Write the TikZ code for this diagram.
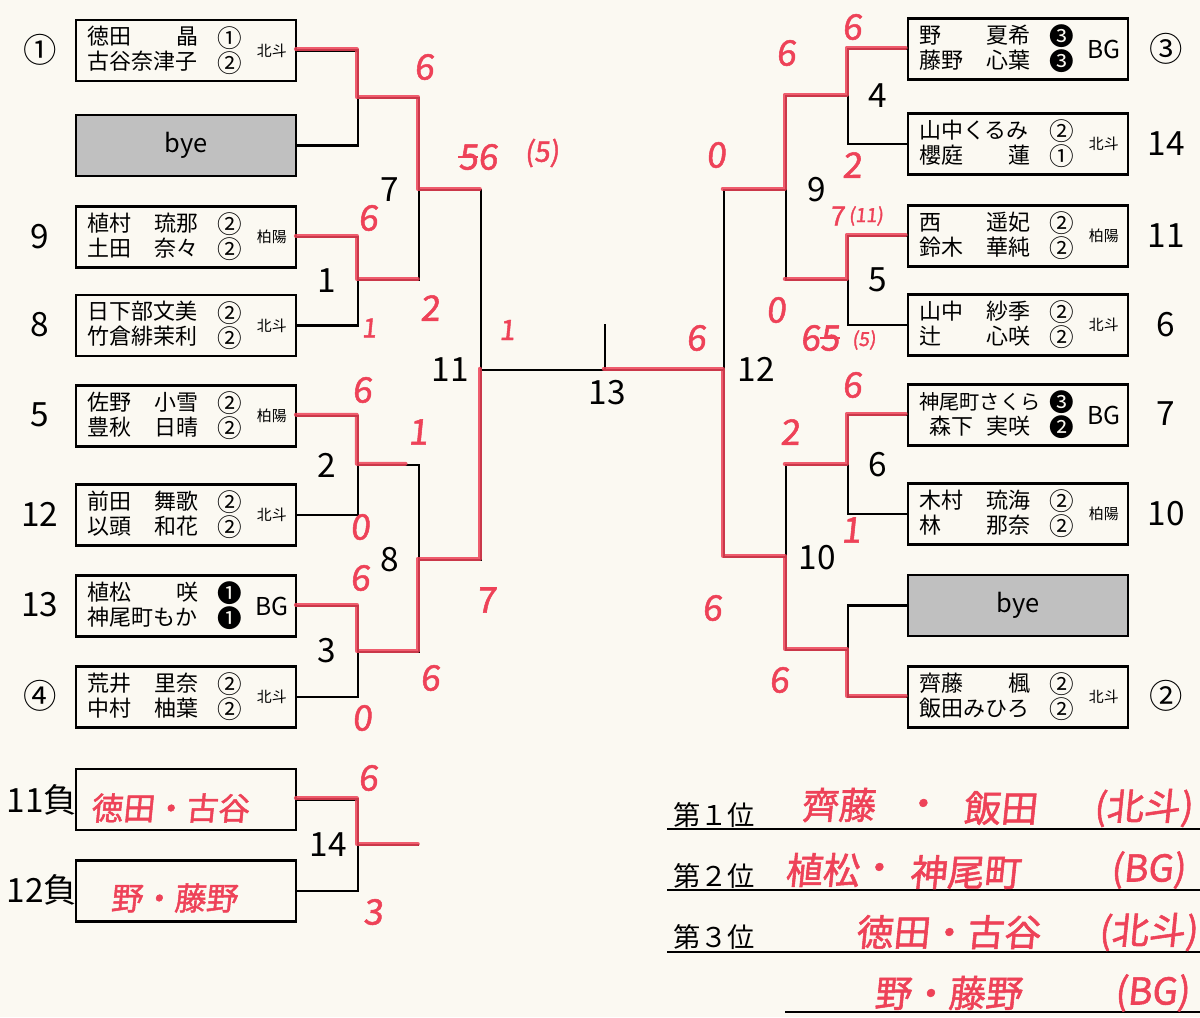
\documentclass[tikz,border=0pt]{standalone}
\usepackage{fontspec}
\usetikzlibrary{calc}
\setmainfont{Noto Sans CJK JP}
\newfontfamily\hand[FakeSlant=0.1,FakeBold=1.5]{Noto Sans CJK JP}
\definecolor{pen}{RGB}{238,66,88}
\definecolor{paper}{RGB}{251,249,242}
\definecolor{byegray}{RGB}{192,192,192}
\newcommand\bgf{\fontsize{14}{14}\selectfont}

\newcommand\pair[8]{%
	\node[nm,anchor=west] (#1s1) at ($(#1.west)+(12,-12.5)$) {#2};
	\node[nm,anchor=east] (#1g1) at ($(#1.west)+(124,-12.5)$) {#3};
	\node[circ] (#1c1) at ($(#1.west)+(155,-12.5)$) {#4};
	\node[nm,anchor=west] (#1s2) at ($(#1.west)+(12,12.5)$) {#5};
	\node[nm,anchor=east] (#1g2) at ($(#1.west)+(124,12.5)$) {#6};
	\node[circ] (#1c2) at ($(#1.west)+(155,12.5)$) {#7};
	\node[sch] (#1sc) at ($(#1.west)+(197,0)$) {#8};
}

\begin{document}
\begin{tikzpicture}[x=0.2mm,y=-0.2mm,
	box/.style={draw,line width=0.45mm,minimum width=44mm,minimum height=12.2mm,inner sep=0},
	byebox/.style={box,fill=byegray,font=\fontsize{14.5}{14.5}\selectfont},
	nm/.style={inner sep=0,font=\fontsize{12.5}{12.5}\selectfont,text height=0.88em,text depth=0.12em},
	circ/.style={inner sep=0,font=\fontsize{14}{14}\selectfont},
	sch/.style={inner sep=0,font=\fontsize{8.5}{8.5}\selectfont},
	num/.style={inner sep=0,font=\fontsize{19}{19}\selectfont},
	place/.style={inner sep=0,font=\fontsize{15.5}{15.5}\selectfont},
	bline/.style={line width=0.45mm},
	win/.style={draw=pen,line width=0.8mm,opacity=.85,line cap=round,line join=round,transform canvas={xshift=-0.25mm,yshift=0.25mm}},
	score/.style={inner sep=0,text=pen,font=\hand\fontsize{20}{20}\selectfont},
	tiny score/.style={inner sep=0,text=pen,font=\hand\fontsize{11}{11}\selectfont},
	hw/.style={inner sep=0,text=pen,font=\hand\fontsize{18}{18}\selectfont},
	res/.style={inner sep=0,text=pen,font=\hand\fontsize{21}{21}\selectfont}]

	\fill[paper] (0,0) rectangle (1200,1017);
	\useasboundingbox (0,0) rectangle (1200,1017);

	\node[box] (L1) at (186,50.5) {};
	\pair{L1}{徳田}{晶}{①}{古谷奈津子}{}{②}{北斗}
	\node[byebox] (L2) at (186,145.5) {bye};
	\node[box] (L3) at (186,237) {};
	\pair{L3}{植村}{琉那}{②}{土田}{奈々}{②}{柏陽}
	\node[box] (L4) at (186,325.5) {};
	\pair{L4}{日下部文美}{}{②}{竹倉緋茉利}{}{②}{北斗}
	\node[box] (L5) at (186,416) {};
	\pair{L5}{佐野}{小雪}{②}{豊秋}{日晴}{②}{柏陽}
	\node[box] (L6) at (186,515) {};
	\pair{L6}{前田}{舞歌}{②}{以頭}{和花}{②}{北斗}
	\node[box] (L7) at (186,606) {};
	\pair{L7}{植松}{咲}{❶}{神尾町もか}{}{❶}{\bgf BG}
	\node[box] (L8) at (186,697) {};
	\pair{L8}{荒井}{里奈}{②}{中村}{柚葉}{②}{北斗}

	\node[box] (R1) at (1018,49) {};
	\pair{R1}{野}{夏希}{❸}{藤野}{心葉}{❸}{\bgf BG}
	\node[box] (R2) at (1018,144) {};
	\pair{R2}{山中くるみ}{}{②}{櫻庭}{蓮}{①}{北斗}
	\node[box] (R3) at (1018,236) {};
	\pair{R3}{西}{遥妃}{②}{鈴木}{華純}{②}{柏陽}
	\node[box] (R4) at (1018,325) {};
	\pair{R4}{山中}{紗季}{②}{辻}{心咲}{②}{北斗}
	\node[box] (R5) at (1018,415) {};
	\pair{R5}{\fontsize{11.5}{11.5}\selectfont 神尾町さくら}{}{❸}{\hspace{2mm}森下}{実咲\hspace{1mm}}{❷}{\bgf BG}
	\node[box] (R6) at (1018,514) {};
	\pair{R6}{木村}{琉海}{②}{林}{那奈}{②}{柏陽}
	\node[byebox] (R7) at (1018,605.5) {bye};
	\node[box] (R8) at (1018,697) {};
	\pair{R8}{齊藤}{楓}{②}{飯田みひろ}{}{②}{北斗}

	\node[box] (B1) at (186,799.5) {};
	\node[box] (B2) at (186,891) {};

	\node[num] (sL1) at (40,50) {①};
	\node[num] (sL3) at (40,237) {9};
	\node[num] (sL4) at (40,325) {8};
	\node[num] (sL5) at (40,415) {5};
	\node[num] (sL6) at (40,514) {12};
	\node[num] (sL7) at (40,605) {13};
	\node[num] (sL8) at (40,696) {④};
	\node[num] (sR1) at (1166,49) {③};
	\node[num] (sR2) at (1166,144) {14};
	\node[num] (sR3) at (1166,236) {11};
	\node[num] (sR4) at (1166,325) {6};
	\node[num] (sR5) at (1166,414) {7};
	\node[num] (sR6) at (1166,514) {10};
	\node[num] (sR8) at (1166,696) {②};
	\node[num] (sB1) at (42,800) {11負};
	\node[num] (sB2) at (42,890) {12負};

	\coordinate (qa) at (358,98);
	\coordinate (q1) at (358,280);
	\coordinate (q2) at (358,465);
	\coordinate (q3) at (358,652);
	\coordinate (s7) at (419,190);
	\coordinate (s8) at (419,560);
	\coordinate (f11) at (481,370);
	\coordinate (c13) at (605,370);
	\coordinate (c13t) at (605,324);
	\coordinate (f12) at (724,370);
	\coordinate (s9) at (786,190);
	\coordinate (s10) at (786,557);
	\coordinate (q4) at (848,96);
	\coordinate (q5) at (848,280);
	\coordinate (q6) at (848,465);
	\coordinate (qb) at (848,650);
	\coordinate (q14) at (358,845);
	\coordinate (e14) at (419,845);

	\draw[bline] (L1.east) -| (qa) |- (L2.east);
	\draw[bline] (L3.east) -| (q1) |- (L4.east);
	\draw[bline] (L5.east) -| (q2) |- (L6.east);
	\draw[bline] (L7.east) -| (q3) |- (L8.east);
	\draw[bline] (qa) -| (s7) |- (q1);
	\draw[bline] (q2) -| (s8) |- (q3);
	\draw[bline] (s7) -| (f11) |- (s8);
	\draw[bline] (f11) -- (c13) -- (f12);
	\draw[bline] (c13) -- (c13t);
	\draw[bline] (f12) |- (s9);
	\draw[bline] (f12) |- (s10);
	\draw[bline] (q4) -| (s9) |- (q5);
	\draw[bline] (q6) -| (s10) |- (qb);
	\draw[bline] (R1.west) -| (q4) |- (R2.west);
	\draw[bline] (R3.west) -| (q5) |- (R4.west);
	\draw[bline] (R5.west) -| (q6) |- (R6.west);
	\draw[bline] (R7.west) -| (qb) |- (R8.west);
	\draw[bline] (B1.east) -| (q14) |- (B2.east);
	\draw[bline] (q14) -- (e14);

	\node[num] (m1) at (327,281) {1};
	\node[num] (m2) at (327,465) {2};
	\node[num] (m3) at (327,651) {3};
	\node[num] (m7) at (390,190) {7};
	\node[num] (m8) at (390,560) {8};
	\node[num] (m11) at (450,370) {11};
	\node[num] (m13) at (607,393) {13};
	\node[num] (m12) at (756,369) {12};
	\node[num] (m9) at (817,190) {9};
	\node[num] (m10) at (817,558) {10};
	\node[num] (m4) at (878,96) {4};
	\node[num] (m5) at (878,280) {5};
	\node[num] (m6) at (878,465) {6};
	\node[num] (m14) at (328,845) {14};

	\node[place] (p1) at (714,815) {第１位};
	\node[place] (p2) at (714,876) {第２位};
	\node[place] (p3) at (714,937) {第３位};
	\draw[bline] (667,829) -- (1200,829);
	\draw[bline] (667,890) -- (1200,890);
	\draw[bline] (667,952) -- (1200,952);
	\draw[bline] (785,1012) -- (1200,1012);

	\draw[win] (L1.east) -| (qa) -| (s7) -- (s7 -| f11);
	\draw[win] (L3.east) -| (q1) -- (q1 -| s7);
	\draw[win] (L5.east) -| (q2) -- ($(q2)!0.8!(q2 -| s8)$);
	\draw[win] (L7.east) -| (q3) -| (s8) -| (f11);
	\draw[win] (R1.west) -| (q4) -| (s9) -- (s9 -| f12);
	\draw[win] (R3.west) -| (q5) -- (q5 -| s9);
	\draw[win] (R5.west) -| (q6) -- (q6 -| s10);
	\draw[win] (R8.west) -| (qb) -| (s10) -| (f12) -- (c13);
	\draw[win] (B1.east) -| (q14) -- (e14);

	\node[score] (k1) at (424,67) {6};
	\node[score] (k2) at (368,218) {6};
	\node[score] (k3) at (430,308) {2};
	\node[score,font=\hand\fontsize{15}{15}\selectfont] (k4) at (369,328) {1};
	\node[score] (k5) at (478,157) {56};
	\draw[pen,line width=0.5mm] (k5.west) -- (k5.center);
	\node[score,font=\hand\fontsize{16}{16}\selectfont] (k6) at (542,153) {(5)};
	\node[score,font=\hand\fontsize{16}{16}\selectfont] (k7) at (507,330) {1};
	\node[score] (k8) at (362,390) {6};
	\node[score] (k9) at (418,432) {1};
	\node[score] (k10) at (360,527) {0};
	\node[score] (k11) at (360,578) {6};
	\node[score] (k12) at (486,600) {7};
	\node[score] (k13) at (430,678) {6};
	\node[score] (k14) at (362,718) {0};
	\node[score] (k15) at (368,778) {6};
	\node[score] (k16) at (373,912) {3};
	\node[score] (k17) at (852,27) {6};
	\node[score] (k18) at (786,53) {6};
	\node[score] (k19) at (716,155) {0};
	\node[score] (k20) at (852,165) {2};
	\node[score,font=\hand\fontsize{15}{15}\selectfont] (k21) at (837,216) {7};
	\node[tiny score] (k22) at (866,216) {(11)};
	\node[score] (k23) at (776,310) {0};
	\node[score] (k24) at (696,338) {6};
	\node[score] (k25) at (820,338) {65};
	\draw[pen,line width=0.5mm] (k25.center) -- (k25.east);
	\node[tiny score] (k26) at (864,340) {(5)};
	\node[score] (k27) at (852,385) {6};
	\node[score] (k28) at (790,432) {2};
	\node[score] (k29) at (851,530) {1};
	\node[score] (k30) at (712,608) {6};
	\node[score] (k31) at (779,680) {6};

	\node[hw] (h1) at (170,808) {徳田・古谷};
	\node[hw] (h2) at (174,898) {野・藤野};
	\node[res] (w1a) at (838,805) {齊藤};
	\node[res] (w1b) at (922,808) {・};
	\node[res] (w1c) at (1000,808) {飯田};
	\node[res] (w1d) at (1143,808) {(北斗)};
	\node[res] (w2a) at (822,870) {植松};
	\node[res] (w2b) at (878,872) {・};
	\node[res] (w2c) at (965,872) {神尾町};
	\node[res] (w2d) at (1148,870) {(BG)};
	\node[res] (w3a) at (948,932) {徳田・古谷};
	\node[res] (w3b) at (1148,932) {(北斗)};
	\node[res] (w4a) at (948,993) {野・藤野};
	\node[res] (w4b) at (1152,993) {(BG)};
\end{tikzpicture}
\end{document}
